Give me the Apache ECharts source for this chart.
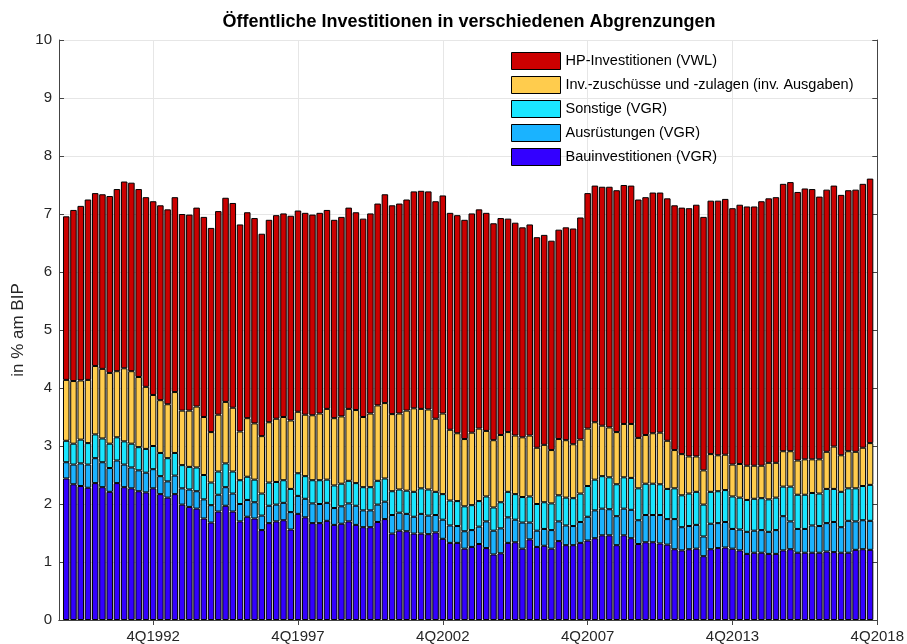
<!DOCTYPE html>
<html>
<head>
<meta charset="utf-8">
<title>Öffentliche Investitionen</title>
<script src="https://cdn.jsdelivr.net/npm/echarts@6/dist/echarts.min.js"></script>
<style>
    html, body { margin: 0; padding: 0; background: #fff; }
    #chart { width: 907px; height: 644px; }
</style>
</head>
<body>
<div id="chart"></div>
<script>
// Quartalswerte in % des BIP, 112 Quartale
var bau = [
    2.44, 2.34, 2.31, 2.28, 2.36, 2.29, 2.21, 2.36, 2.29, 2.27,
    2.22, 2.20, 2.27, 2.17, 2.11, 2.17, 1.99, 1.95, 1.92, 1.75,
    1.68, 1.87, 1.97, 1.87, 1.70, 1.78, 1.75, 1.55, 1.67, 1.70,
    1.72, 1.56, 1.83, 1.77, 1.67, 1.67, 1.71, 1.64, 1.66, 1.70,
    1.64, 1.60, 1.60, 1.69, 1.74, 1.49, 1.54, 1.53, 1.49, 1.49,
    1.48, 1.51, 1.40, 1.33, 1.33, 1.23, 1.26, 1.31, 1.24, 1.13,
    1.15, 1.33, 1.34, 1.23, 1.39, 1.26, 1.28, 1.23, 1.36, 1.29,
    1.29, 1.33, 1.37, 1.41, 1.46, 1.46, 1.29, 1.46, 1.41, 1.31,
    1.34, 1.34, 1.32, 1.30, 1.22, 1.20, 1.22, 1.23, 1.10, 1.22,
    1.24, 1.25, 1.23, 1.20, 1.14, 1.16, 1.16, 1.14, 1.14, 1.20,
    1.22, 1.16, 1.16, 1.16, 1.16, 1.18, 1.17, 1.16, 1.16, 1.21,
    1.22, 1.21
]
var ausruestungen = [
    0.28, 0.34, 0.39, 0.40, 0.43, 0.43, 0.41, 0.39, 0.39, 0.36,
    0.36, 0.34, 0.33, 0.31, 0.28, 0.32, 0.28, 0.30, 0.30, 0.33,
    0.30, 0.29, 0.32, 0.31, 0.30, 0.29, 0.28, 0.25, 0.30, 0.29,
    0.30, 0.30, 0.31, 0.32, 0.34, 0.33, 0.31, 0.29, 0.30, 0.31,
    0.33, 0.29, 0.29, 0.30, 0.30, 0.32, 0.31, 0.30, 0.29, 0.34,
    0.32, 0.30, 0.33, 0.30, 0.29, 0.30, 0.29, 0.30, 0.46, 0.41,
    0.43, 0.44, 0.39, 0.45, 0.29, 0.28, 0.29, 0.32, 0.34, 0.34,
    0.33, 0.36, 0.41, 0.48, 0.46, 0.45, 0.50, 0.46, 0.49, 0.41,
    0.47, 0.47, 0.49, 0.44, 0.52, 0.40, 0.40, 0.41, 0.34, 0.44,
    0.43, 0.44, 0.34, 0.36, 0.38, 0.38, 0.39, 0.38, 0.41, 0.59,
    0.48, 0.41, 0.41, 0.47, 0.46, 0.49, 0.52, 0.44, 0.55, 0.49,
    0.50, 0.50
]
var sonstige = [
    0.37, 0.36, 0.41, 0.37, 0.41, 0.41, 0.42, 0.40, 0.40, 0.41,
    0.40, 0.41, 0.40, 0.40, 0.40, 0.39, 0.40, 0.39, 0.41, 0.42,
    0.39, 0.40, 0.41, 0.38, 0.41, 0.40, 0.39, 0.38, 0.40, 0.39,
    0.39, 0.40, 0.39, 0.39, 0.40, 0.41, 0.40, 0.39, 0.39, 0.39,
    0.39, 0.40, 0.40, 0.41, 0.40, 0.41, 0.40, 0.40, 0.43, 0.44,
    0.45, 0.40, 0.44, 0.43, 0.43, 0.43, 0.43, 0.44, 0.43, 0.40,
    0.45, 0.44, 0.44, 0.44, 0.45, 0.46, 0.46, 0.46, 0.45, 0.48,
    0.48, 0.49, 0.53, 0.53, 0.56, 0.55, 0.55, 0.54, 0.55, 0.55,
    0.54, 0.54, 0.53, 0.52, 0.53, 0.55, 0.56, 0.57, 0.55, 0.55,
    0.55, 0.55, 0.56, 0.55, 0.55, 0.55, 0.55, 0.56, 0.56, 0.51,
    0.60, 0.59, 0.59, 0.56, 0.56, 0.59, 0.57, 0.61, 0.56, 0.57,
    0.59, 0.62
]
var zuschuesse = [
    1.05, 1.08, 1.02, 1.09, 1.18, 1.20, 1.22, 1.14, 1.26, 1.25,
    1.21, 1.07, 0.88, 0.91, 0.93, 1.05, 0.94, 0.97, 1.05, 1.00,
    0.87, 0.98, 1.06, 1.10, 0.84, 1.01, 0.97, 0.99, 1.04, 1.09,
    1.09, 1.18, 1.06, 1.06, 1.12, 1.15, 1.22, 1.16, 1.16, 1.24,
    1.26, 1.21, 1.27, 1.30, 1.30, 1.33, 1.31, 1.38, 1.44, 1.37,
    1.38, 1.26, 1.39, 1.22, 1.17, 1.16, 1.25, 1.25, 1.13, 1.16,
    1.16, 1.03, 1.01, 1.03, 1.05, 0.97, 0.99, 0.92, 0.97, 0.99,
    0.93, 0.93, 0.99, 0.99, 0.87, 0.86, 0.90, 0.92, 0.93, 0.87,
    0.84, 0.87, 0.89, 0.83, 0.66, 0.71, 0.64, 0.61, 0.59, 0.65,
    0.62, 0.61, 0.55, 0.58, 0.59, 0.57, 0.56, 0.63, 0.60, 0.61,
    0.61, 0.59, 0.61, 0.58, 0.59, 0.64, 0.73, 0.63, 0.64, 0.63,
    0.66, 0.72
]
var hp = [
    2.82, 2.95, 3.01, 3.11, 2.98, 3.01, 3.05, 3.14, 3.22, 3.25,
    3.24, 3.27, 3.34, 3.36, 3.36, 3.36, 3.39, 3.38, 3.43, 3.45,
    3.52, 3.51, 3.52, 3.53, 3.57, 3.55, 3.54, 3.49, 3.49, 3.51,
    3.51, 3.53, 3.47, 3.48, 3.46, 3.46, 3.43, 3.42, 3.44, 3.47,
    3.41, 3.42, 3.45, 3.48, 3.60, 3.60, 3.62, 3.64, 3.74, 3.76,
    3.76, 3.75, 3.76, 3.74, 3.76, 3.78, 3.78, 3.78, 3.76, 3.74,
    3.74, 3.68, 3.67, 3.62, 3.64, 3.63, 3.62, 3.61, 3.61, 3.67,
    3.72, 3.83, 4.06, 4.08, 4.12, 4.15, 4.17, 4.12, 4.11, 4.11,
    4.10, 4.15, 4.14, 4.18, 4.22, 4.25, 4.28, 4.34, 4.37, 4.37,
    4.39, 4.41, 4.42, 4.47, 4.47, 4.47, 4.56, 4.56, 4.58, 4.61,
    4.64, 4.63, 4.67, 4.66, 4.53, 4.52, 4.50, 4.49, 4.50, 4.52,
    4.55, 4.56
]
var tickIndex = [13, 33, 53, 73, 93, 113]
var tickLabels = ['4Q1992', '4Q1997', '4Q2002', '4Q2007', '4Q2013', '4Q2018']
var seriesNames = [
    'Bauinvestitionen (VGR)',
    'Ausrüstungen (VGR)',
    'Sonstige (VGR)',
    'Inv.-zuschüsse und -zulagen (inv. Ausgaben)',
    'HP-Investitionen (VWL)'
]
var seriesColors = ['#3300FF', '#1AB3FF', '#1AE6FF', '#FFCC4D', '#CC0000']

var font = "'Liberation Sans', Arial, Helvetica, sans-serif"

// Achse wie in MATLAB: 0 .. N+1, Balken auf 1..N
var n = bau.length
var cats = []
for (var i = 0; i <= n + 1; i++) cats.push(String(i))

function pad(arr) {
    return [null].concat(arr, [null])
}
function isTick(index) {
    return tickIndex.indexOf(index) >= 0
}

var values = [bau, ausruestungen, sonstige, zuschuesse, hp]
var series = values.map(function (arr, k) {
    return {
        name: seriesNames[k],
        type: 'bar',
        stack: 'total',
        barWidth: 6.5,
        data: pad(arr),
        itemStyle: { color: seriesColors[k], borderColor: '#000', borderWidth: 1 },
        emphasis: { disabled: true }
    }
})

var chart = echarts.init(document.getElementById('chart'), null, { renderer: 'canvas' })
var axisColor = '#444'
var option = {
    backgroundColor: '#fff',
    animation: false,
    textStyle: { fontFamily: font },
    title: {
        text: 'Öffentliche Investitionen in verschiedenen Abgrenzungen',
        left: 469,
        top: 13,
        padding: 0,
        textAlign: 'center',
        textStyle: { fontSize: 18, fontWeight: 'bold', color: '#000', fontFamily: font }
    },
    legend: {
        data: seriesNames.slice().reverse(),
        orient: 'vertical',
        left: 511,
        top: 52,
        padding: 0,
        itemWidth: 49,
        itemHeight: 17,
        itemGap: 6,
        icon: 'rect',
        itemStyle: { borderColor: '#000', borderWidth: 1 },
        textStyle: { fontSize: 14.5, color: '#000', fontFamily: font }
    },
    grid: { left: 59, right: 28, top: 40, bottom: 24, containLabel: false },
    xAxis: [
        {
            type: 'category',
            data: cats,
            boundaryGap: false,
            axisLine: { lineStyle: { color: axisColor } },
            axisTick: { inside: true, length: 5, interval: isTick, lineStyle: { color: axisColor } },
            axisLabel: {
                interval: isTick,
                formatter: function (v) {
                    return tickLabels[tickIndex.indexOf(+v)]
                },
                fontSize: 15,
                color: '#262626',
                margin: 9
            },
            splitLine: { show: true, interval: isTick, lineStyle: { color: '#e6e6e6' } }
        },
        {
            type: 'category',
            data: cats,
            boundaryGap: false,
            position: 'top',
            axisLine: { lineStyle: { color: axisColor } },
            axisTick: { inside: true, length: 5, interval: isTick, lineStyle: { color: axisColor } },
            axisLabel: { show: false },
            splitLine: { show: false }
        }
    ],
    yAxis: [
        {
            type: 'value',
            min: 0,
            max: 10,
            interval: 1,
            name: 'in % am BIP',
            nameLocation: 'middle',
            nameGap: 32,
            nameMoveOverlap: false,
            nameTextStyle: { fontSize: 17, color: '#262626' },
            axisLine: { show: true, lineStyle: { color: axisColor } },
            axisTick: { show: true, inside: true, length: 5, lineStyle: { color: axisColor } },
            axisLabel: { fontSize: 15, color: '#262626', margin: 7 },
            splitLine: { show: true, lineStyle: { color: '#e6e6e6' } }
        },
        {
            type: 'value',
            min: 0,
            max: 10,
            interval: 1,
            position: 'right',
            axisLine: { show: true, lineStyle: { color: axisColor } },
            axisTick: { show: true, inside: true, length: 5, lineStyle: { color: axisColor } },
            axisLabel: { show: false },
            splitLine: { show: false }
        }
    ],
    series: series
}
chart.setOption(option)
</script>
</body>
</html>
